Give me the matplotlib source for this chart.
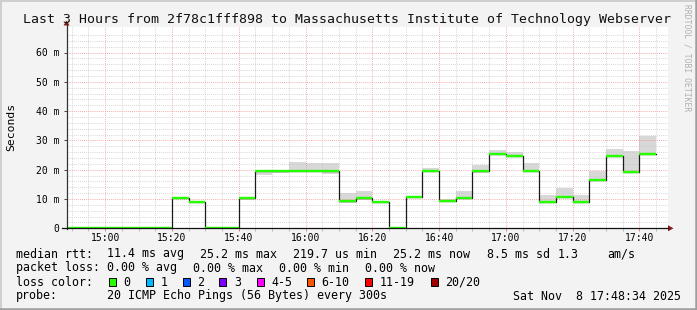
import matplotlib
matplotlib.use('Agg')
import matplotlib.pyplot as plt
import matplotlib.dates as mdates
import numpy as np
import pandas as pd
from matplotlib.patches import Rectangle, Polygon
from matplotlib.lines import Line2D

W, H = 697, 310

# ---- data ----
interval_start = pd.date_range('2025-11-08 14:45', periods=36, freq='5min')
median_ms = [0.22, 0.22, 0.22, 0.22, 0.22, 0.22, 0.22,
             10.4, 9.0, 0.22, 0.22, 10.3,
             19.6, 19.6, 19.6, 19.6, 19.6,
             9.4, 10.3, 9.1, 0.22, 10.7, 19.7, 9.4, 10.3, 19.7,
             25.2, 24.7, 19.7, 9.1, 10.7, 9.1, 16.6, 24.8, 19.3, 25.2]
smoke_lo = [np.nan] * 7 + [10.1, 8.8, np.nan, np.nan, 9.6,
            18.2, 19.0, 19.3, 19.3, 18.5,
            8.5, 9.7, 8.5, np.nan, 10.5, 19.4, 9.1, 9.9, 18.9,
            25.0, 24.2, 19.1, 8.7, 10.2, 8.7, 16.2, 24.2, 19.0, 25.0]
smoke_hi = [np.nan] * 7 + [10.6, 9.2, np.nan, np.nan, 10.4,
            19.7, 19.8, 22.5, 22.2, 22.4,
            11.9, 12.8, 11.0, np.nan, 10.9, 20.7, 9.9, 12.9, 21.7,
            26.6, 25.9, 22.2, 11.5, 13.6, 11.5, 19.7, 27.1, 26.4, 31.6]
loss_index = [0] * 36

loss_labels = ['0', '1', '2', '3', '4-5', '6-10', '11-19', '20/20']
loss_colors = ['#26ff00', '#00b8ff', '#0059ff', '#7e00ff', '#ff00ff',
               '#ff5500', '#ff0000', '#a10000']

x_tick_labels = ['15:00', '15:20', '15:40', '16:00', '16:20', '16:40',
                 '17:00', '17:20', '17:40']
y_ticks = [0, 10, 20, 30, 40, 50, 60]
y_tick_labels = ['0', '10 m', '20 m', '30 m', '40 m', '50 m', '60 m']

title = 'Last 3 Hours from 2f78c1fff898 to Massachusetts Institute of Technology Webserver'

MONO = 'DejaVu Sans Mono'

# ---- figure ----
fig = plt.figure(figsize=(W / 100, H / 100), dpi=100)
fig.patch.set_facecolor('#f3f3f3')


def fx(x):
    return x / W


def fy(y):
    return 1 - y / H


# bevel border
fig.add_artist(Line2D([fx(0), fx(W)], [fy(0.5), fy(0.5)], transform=fig.transFigure,
                      color='#cfcfcf', lw=1.44))
fig.add_artist(Line2D([fx(0.5), fx(0.5)], [fy(0), fy(H)], transform=fig.transFigure,
                      color='#cfcfcf', lw=1.44))
fig.add_artist(Line2D([fx(0), fx(W)], [fy(H - 1), fy(H - 1)], transform=fig.transFigure,
                      color='#9e9e9e', lw=1.8))
fig.add_artist(Line2D([fx(W - 1), fx(W - 1)], [fy(0), fy(H)], transform=fig.transFigure,
                      color='#9e9e9e', lw=1.8))

x0, x1, ytop, ybot = 67, 668, 27, 228.3
ax = fig.add_axes([fx(x0), fy(ybot), (x1 - x0) / W, (ybot - ytop) / H])
ax.set_facecolor('white')

t_start = pd.Timestamp('2025-11-08 14:48:34')
t_end = pd.Timestamp('2025-11-08 17:48:34')
px_per_ms = 2.93
ax.set_xlim(t_start, t_end)
ax.set_ylim(0, (ybot - ytop) / px_per_ms)

edges = list(interval_start) + [interval_start[-1] + pd.Timedelta(minutes=5)]
med_ext = median_ms + [median_ms[-1]]
lo_ext = smoke_lo + [smoke_lo[-1]]
hi_ext = smoke_hi + [smoke_hi[-1]]

ax.fill_between(edges, lo_ext, hi_ext, step='post', color='#d8d8d8', lw=0, zorder=1)
ax.step(edges, med_ext, where='post', color='#1a1a1a', lw=0.9, zorder=3)
ax.hlines(median_ms, interval_start, edges[1:],
          colors=[loss_colors[i] for i in loss_index], lw=1.7, zorder=4)

# grid
ax.xaxis.set_major_locator(mdates.MinuteLocator(byminute=[0, 20, 40]))
ax.xaxis.set_minor_locator(mdates.MinuteLocator(byminute=range(0, 60, 5)))
ax.xaxis.set_major_formatter(mdates.DateFormatter('%H:%M'))
ax.set_yticks(y_ticks)
ax.set_yticklabels(y_tick_labels)
ax.set_yticks(np.arange(0, 68, 2), minor=True)
ax.set_axisbelow(False)
ax.grid(which='minor', color='#c8c8c8', lw=0.6, linestyle=(0, (1, 1.5)), zorder=2)
ax.grid(which='major', color='#f09090', lw=0.6, linestyle=(0, (1, 1.5)), zorder=2)

for s in ax.spines.values():
    s.set_visible(False)

ax.tick_params(axis='both', which='both', labelsize=7, colors='#444444',
               labelcolor='black', width=0.7)
ax.tick_params(axis='y', which='major', length=2.5, pad=3)
ax.tick_params(axis='y', which='minor', length=0)
ax.tick_params(axis='x', which='major', length=2, pad=1.5, color='#e08080')
ax.tick_params(axis='x', which='minor', length=2, color='#bbbbbb')
for lab in ax.get_xticklabels() + ax.get_yticklabels():
    lab.set_fontfamily(MONO)

# axes lines with arrows
fig.add_artist(Line2D([fx(66.5), fx(66.5)], [fy(ybot + 0.5), fy(23)],
                      transform=fig.transFigure, color='#333333', lw=0.9))
fig.add_artist(Line2D([fx(62), fx(668)], [fy(ybot), fy(ybot)],
                      transform=fig.transFigure, color='#111111', lw=0.9))
fig.add_artist(Polygon([(fx(63.5), fy(25.5)), (fx(69.5), fy(25.5)), (fx(66.5), fy(20.5))],
                       closed=True, transform=fig.transFigure, color='#8b1a1a', lw=0))
fig.add_artist(Polygon([(fx(668), fy(ybot - 3)), (fx(668), fy(ybot + 3)), (fx(673.5), fy(ybot))],
                       closed=True, transform=fig.transFigure, color='#8b1a1a', lw=0))

# texts
fig.text(fx(347), fy(19), title, ha='center', va='center', fontsize=9.52,
         family=MONO, color='#111111')
fig.text(fx(11), fy(127), 'Seconds', rotation=90, ha='center', va='center',
         fontsize=8.2, family=MONO)
fig.text(fx(686.5), fy(58), 'RRDTOOL / TOBI OETIKER', rotation=270, ha='center',
         va='center', fontsize=5.8, family=MONO, color='#b0b0b0')

FS = 8.4
rows = [
    (254, [(16, 'median rtt:'), (107, '11.4 ms avg'), (200, '25.2 ms max'),
           (293, '219.7 us min'), (393, '25.2 ms now'), (487, '8.5 ms sd'),
           (558, '1.3'), (607, 'am/s')]),
    (268, [(16, 'packet loss:'), (107, '0.00 % avg'), (193, '0.00 % max'),
           (279, '0.00 % min'), (365, '0.00 % now')]),
    (296, [(16, 'probe:'), (107, '20 ICMP Echo Pings (56 Bytes) every 300s'),
           (513, 'Sat Nov  8 17:48:34 2025')]),
]
for y, items in rows:
    for x, s in items:
        fig.text(fx(x), fy(y), s, ha='left', va='center', fontsize=FS, family=MONO)

fig.text(fx(16), fy(282), 'loss color:', ha='left', va='center', fontsize=FS, family=MONO)
box_x = [108.7, 145.7, 182.7, 219.3, 256.7, 307, 365.3, 430.7]
for bx, lab, col in zip(box_x, loss_labels, loss_colors):
    fig.add_artist(Rectangle((fx(bx), fy(286)), 7 / W, 8 / H, transform=fig.transFigure,
                             facecolor=col, edgecolor='black', lw=0.7))
    fig.text(fx(bx + 14.5), fy(282), lab, ha='left', va='center', fontsize=FS, family=MONO)

fig.savefig('out.png', dpi=100, facecolor=fig.get_facecolor())
